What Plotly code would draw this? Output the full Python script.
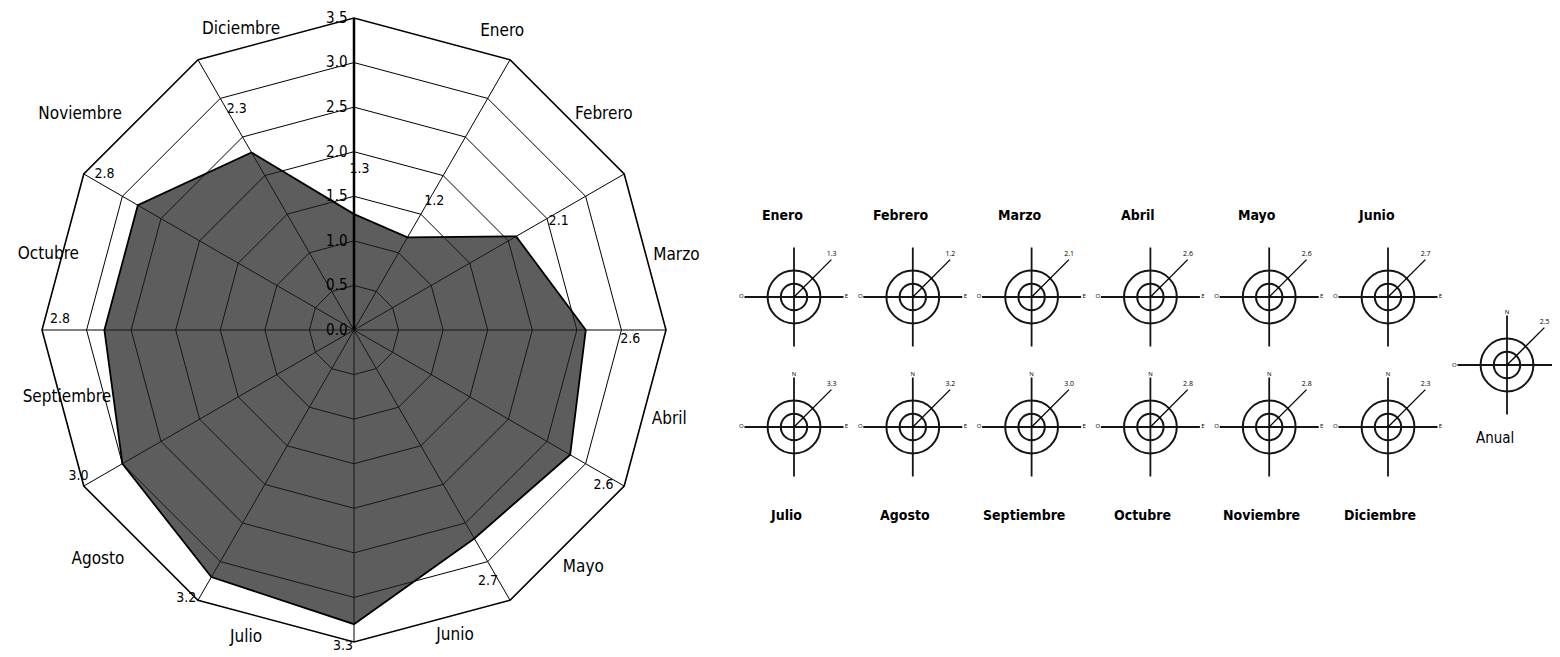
import plotly.graph_objects as go

# ---------------- data ----------------
months = ["Enero", "Febrero", "Marzo", "Abril", "Mayo", "Junio", "Julio",
          "Agosto", "Septiembre", "Octubre", "Noviembre", "Diciembre"]
values = [1.3, 1.2, 2.1, 2.6, 2.8, 2.7, 3.3, 3.2, 3.0, 2.8, 2.8, 2.3]
value_labels = ["1.3", "1.2", "2.1", "2.6", "2.6", "2.7", "3.3", "3.2", "3.0", "2.8", "2.8", "2.3"]
radial_ticks = [0.0, 0.5, 1.0, 1.5, 2.0, 2.5, 3.0, 3.5]
radial_tick_labels = ["0.0", "0.5", "1.0", "1.5", "2.0", "2.5", "3.0", "3.5"]
anual_label = "Anual"
anual_value = 2.5
compass_labels = ["N", "E", "O"]

# ---------------- styling ----------------
NARROW = "Liberation Sans Narrow, DejaVu Sans Condensed, Roboto Condensed, Arial Narrow, sans-serif"
W, H = 1560, 657
OFF = 8                     # page body margin
main_cx, main_cy, main_R = 354 - OFF, 330 - OFF, 312
RMAX = 3.5
scale = main_R / RMAX       # px per unit
LBL_RMAX = 3.6              # overlay range for labels

# placement of the month names around the frame (angle, radius, anchor)
month_label_theta = [23.5, 45.8, 76, 106.8, 138.7, 161.2, 197.1, 226, 256.7, 283.8, 312.8, 345.8]
month_label_r = [3.55, 3.46, 3.46, 3.49, 3.55, 3.52, 3.51, 3.58, 3.31, 3.53, 3.55, 3.38]
month_label_pos = ["top right", "middle right", "middle right", "middle right", "middle right",
                   "bottom center", "bottom left", "bottom left", "middle center",
                   "middle center", "middle left", "top left"]

fig = go.Figure()

# Main radar polygon
fig.add_trace(go.Scatterpolar(
    r=values + values[:1], theta=months + months[:1], mode="lines",
    fill="toself", fillcolor="rgba(30,30,30,0.72)",
    line=dict(color="black", width=1.8), subplot="polar",
    showlegend=False, hoverinfo="skip"))

# Month labels in overlay polar
fig.add_trace(go.Scatterpolar(
    r=month_label_r, theta=month_label_theta, mode="text", text=months,
    textposition=month_label_pos,
    textfont=dict(family=NARROW, size=17, color="black"),
    subplot="polar2", cliponaxis=False, showlegend=False, hoverinfo="skip"))

# Value labels near spokes
fig.add_trace(go.Scatterpolar(
    r=[min(v + 0.5, 3.55) for v in values],
    theta=[i * 30 + 2 for i in range(len(values))],
    mode="text", text=value_labels, textfont=dict(family=NARROW, size=14, color="black"),
    subplot="polar2", cliponaxis=False, showlegend=False, hoverinfo="skip"))


def dom(cx, cy, R):
    return dict(x=[max(0, (cx - R) / W), min(1, (cx + R) / W)],
                y=[max(0, 1 - (cy + R) / H), min(1, 1 - (cy - R) / H)])


layout = dict(
    width=W, height=H, paper_bgcolor="white", plot_bgcolor="white",
    margin=dict(l=0, r=0, t=0, b=0), showlegend=False,
    polar=dict(
        domain=dom(main_cx, main_cy, main_R), gridshape="linear", bgcolor="white",
        angularaxis=dict(type="category", categoryarray=months, rotation=90,
                         direction="clockwise", showticklabels=False, ticks="",
                         showline=True, linecolor="black", linewidth=1.6,
                         showgrid=True, gridcolor="black", gridwidth=1.3,
                         layer="above traces"),
        radialaxis=dict(range=[0, RMAX], tickvals=radial_ticks, ticktext=radial_tick_labels,
                        angle=90, tickangle=90, side="counterclockwise", ticks="",
                        showline=True, linecolor="black", linewidth=2.5,
                        showgrid=True, gridcolor="black", gridwidth=1.3,
                        tickfont=dict(family=NARROW, size=15, color="black"),
                        layer="above traces"),
    ),
    polar2=dict(
        domain=dom(main_cx, main_cy, LBL_RMAX * scale), bgcolor="rgba(0,0,0,0)",
        angularaxis=dict(rotation=90, direction="clockwise", visible=False),
        radialaxis=dict(range=[0, LBL_RMAX], visible=False),
    ),
)

# ---------------- mini roses ----------------
m_scale = 13.2            # px per unit in the mini roses
M_RMAX = 4.7
col_x = [794 - OFF + k * 118.8 for k in range(6)]
row_y = [297 - OFF, 427 - OFF]
anual_xy = (1507 - OFF, 365 - OFF)
minis = []
for k in range(6):
    minis.append((months[k], value_labels[k], col_x[k], row_y[0], "top"))
for k in range(6):
    minis.append((months[6 + k], value_labels[6 + k], col_x[k], row_y[1], "bottom"))
minis.append((anual_label, f"{anual_value:.1f}", anual_xy[0], anual_xy[1], "anual"))

annotations = []
for i, (name, lab, cx, cy, pos) in enumerate(minis):
    pid = f"polar{i + 3}"
    R_eff = min(M_RMAX * m_scale, W - cx - 0.5, cx, cy, H - cy)
    rmax = R_eff / m_scale
    layout[pid] = dict(
        domain=dom(cx, cy, R_eff), bgcolor="rgba(0,0,0,0)",
        angularaxis=dict(rotation=90, direction="clockwise", visible=False),
        radialaxis=dict(range=[0, rmax], tickvals=[1, 2], showticklabels=False, ticks="",
                        showline=False, showgrid=True, gridcolor="#151515", gridwidth=1.8),
    )
    # crosshair
    for th in ([0, 180], [90, 270]):
        fig.add_trace(go.Scatterpolar(r=[3.75, 3.75], theta=th, mode="lines",
                                      line=dict(color="#151515", width=1.8), subplot=pid,
                                      showlegend=False, hoverinfo="skip"))
    # diagonal pointer and its value
    fig.add_trace(go.Scatterpolar(r=[0, 4.0], theta=[45, 45], mode="lines",
                                  line=dict(color="black", width=1.3), subplot=pid,
                                  showlegend=False, hoverinfo="skip"))
    fig.add_trace(go.Scatterpolar(r=[4.1], theta=[44], mode="text", text=[lab],
                                  textposition="top center",
                                  textfont=dict(size=7, color="black"), subplot=pid,
                                  cliponaxis=False, showlegend=False, hoverinfo="skip"))
    # compass letters
    if pos == "top":
        ctext, cth = compass_labels[1:], [90, 270]
    else:
        ctext, cth = compass_labels, [0, 90, 270]
    fig.add_trace(go.Scatterpolar(r=[3.98] * len(ctext), theta=cth, mode="text",
                                  text=ctext, textfont=dict(size=6, color="black"), subplot=pid,
                                  cliponaxis=False, showlegend=False, hoverinfo="skip"))
    if pos == "top":
        ty, tx, txt, fsz = 215 - OFF, cx - 12, f"<b>{name}</b>", 14
    elif pos == "bottom":
        ty, tx, txt, fsz = 515 - OFF, cx - 8, f"<b>{name}</b>", 14
    else:
        ty, tx, txt, fsz = 438 - OFF, cx - 12, name, 15
    annotations.append(dict(x=tx / W, y=1 - ty / H, xref="paper", yref="paper",
                            xanchor="center", yanchor="middle", text=txt, showarrow=False,
                            font=dict(family=NARROW, size=fsz, color="black")))

layout["annotations"] = annotations
fig.update_layout(**layout)
fig.write_html("out.html")
